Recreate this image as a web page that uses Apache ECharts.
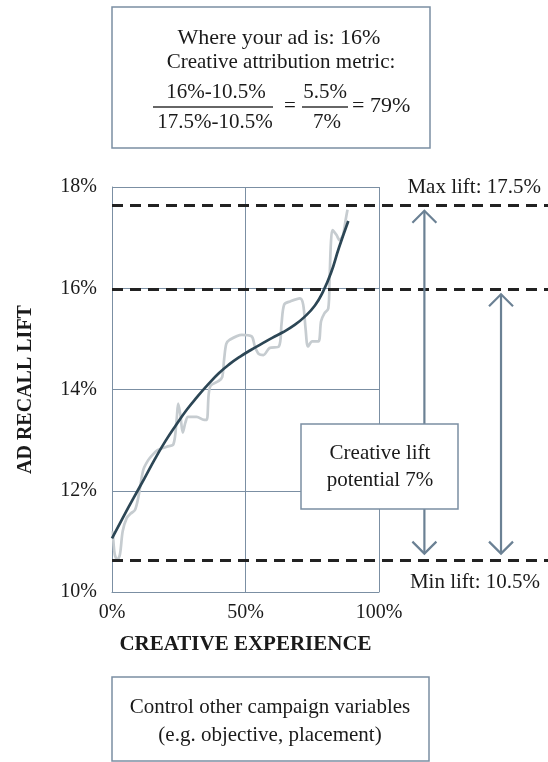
<!DOCTYPE html>
<html><head><meta charset="utf-8">
<script src="https://cdn.jsdelivr.net/npm/echarts@6/dist/echarts.min.js"></script>
<style>html,body{margin:0;padding:0;background:#fff}#c{width:548px;height:762px}</style>
</head><body><div id="c"></div>
<script>
// ---- data ----
const xTicks = [0, 50, 100];
const yTicks = [10, 12, 14, 16, 18];
const fitX = [0, 4, 8, 12, 16, 20, 24, 28, 32, 36, 40, 44, 48, 52, 56, 60, 64, 68, 72, 76, 79, 82, 85, 88.5];
const fitY = [11.06, 11.46, 11.85, 12.23, 12.62, 12.98, 13.3, 13.6, 13.86, 14.1, 14.32, 14.5, 14.65, 14.78, 14.9, 15.02, 15.13, 15.26, 15.43, 15.66, 15.93, 16.3, 16.8, 17.33];
const rawX = [0.3, 1, 2, 3, 4, 5.5, 7, 8.6, 9.9, 11.7, 13.5, 15, 17, 20.5, 23, 24.2, 24.8, 25.6, 26.5, 27.5, 28.5, 31.7, 34.5, 35.5, 36.2, 37, 40, 41.3, 42, 42.8, 44, 48.6, 52.3, 53.5, 55, 56.7, 59, 62.5, 63.5, 64.5, 66.7, 70.4, 71.6, 72.5, 73.4, 75, 77.3, 78.3, 79.5, 81, 81.5, 82, 82.6, 84.1, 85.2, 86.5, 87.5, 88.2];
const rawY = [11.2, 10.75, 10.63, 10.75, 11.2, 11.46, 11.55, 11.62, 11.88, 12.41, 12.6, 12.7, 12.8, 12.87, 12.92, 13.4, 13.72, 13.5, 13.15, 13.35, 13.46, 13.46, 13.4, 13.4, 13.9, 14.08, 14.17, 14.25, 14.6, 14.9, 14.98, 15.08, 15.05, 14.85, 14.7, 14.68, 14.82, 14.85, 15.3, 15.68, 15.74, 15.8, 15.68, 15.2, 14.85, 14.95, 14.95, 15.35, 15.5, 15.6, 16.2, 16.9, 17.15, 17.05, 16.95, 17.05, 17.35, 17.55];
const levelValues = [17.63, 15.98, 10.62];
const levelLabels = ['Max lift: 17.5%', '', 'Min lift: 10.5%'];
const arrowX = [117, 145.7];
const arrowTop = [17.63, 15.98];
const arrowBottom = [10.62, 10.62];

// ---- layout ----
const W = 548, H = 762;
const G = { left: 112, right: 169, top: 187, bottom: 170 };
const xMax2 = 100 * (W - G.left) / (W - G.left - G.right);
const FONT = '"Liberation Serif", "Times New Roman", serif';
const AX = '#7b8fa3';
const TXT = '#1a1a1a';

const zip = (a, b) => a.map((v, i) => [v, b[i]]);

const chart = echarts.init(document.getElementById('c'), null, { renderer: 'canvas' });

const option = {
  animation: false,
  backgroundColor: '#fff',
  grid: [
    { left: G.left, right: G.right, top: G.top, bottom: G.bottom },
    { left: G.left, right: 0, top: G.top, bottom: G.bottom }
  ],
  xAxis: [
    { type: 'value', gridIndex: 0, min: xTicks[0], max: xTicks[xTicks.length - 1], interval: 50,
      axisLine: { show: true, lineStyle: { color: AX, width: 1 } }, axisTick: { show: false },
      splitLine: { show: true, lineStyle: { color: AX, width: 1 } },
      axisLabel: { formatter: v => v + '%', fontFamily: FONT, fontSize: 20, color: TXT, margin: 11 },
      name: 'CREATIVE EXPERIENCE', nameLocation: 'middle', nameGap: 42,
      nameTextStyle: { fontFamily: FONT, fontSize: 21, fontWeight: 'bold', color: TXT } },
    { type: 'value', gridIndex: 1, min: 0, max: xMax2, show: false }
  ],
  yAxis: [
    { type: 'value', gridIndex: 0, min: yTicks[0], max: yTicks[yTicks.length - 1], interval: 2,
      axisLine: { show: true, lineStyle: { color: AX, width: 1 } }, axisTick: { show: false },
      splitLine: { show: true, lineStyle: { color: AX, width: 1 } },
      axisLabel: { formatter: v => v + '%', fontFamily: FONT, fontSize: 20, color: TXT, margin: 15 },
      name: 'AD RECALL LIFT', nameLocation: 'middle', nameGap: 76, nameRotate: 90,
      nameTextStyle: { fontFamily: FONT, fontSize: 20, fontWeight: 'bold', color: TXT } },
    { type: 'value', gridIndex: 1, min: yTicks[0], max: yTicks[yTicks.length - 1], show: false }
  ],
  series: [
    { type: 'line', xAxisIndex: 0, yAxisIndex: 0, data: zip(rawX, rawY), smooth: 0.3,
      showSymbol: false, lineStyle: { color: '#c6ccd0', width: 2.7 }, z: 3 },
    { type: 'line', xAxisIndex: 0, yAxisIndex: 0, data: zip(fitX, fitY), smooth: true,
      showSymbol: false, lineStyle: { color: '#2c4655', width: 2.7 }, z: 4 },
    { type: 'line', xAxisIndex: 1, yAxisIndex: 1, data: [], z: 5, silent: true,
      markLine: { silent: true, symbol: 'none', animation: false,
        lineStyle: { color: '#222', width: 2.8, type: [11, 7] },
        label: { show: false },
        data: levelValues.map(v => ({ yAxis: v })) } },
    { type: 'custom', xAxisIndex: 1, yAxisIndex: 1, z: 6, silent: true,
      data: arrowX.map((x, i) => [x, arrowTop[i], arrowBottom[i]]),
      encode: { x: 0, y: [1, 2] },
      renderItem: (params, api) => {
        const pt = api.coord([api.value(0), api.value(1)]);
        const pb = api.coord([api.value(0), api.value(2)]);
        const x = pt[0], y1 = pt[1] + 5, y2 = pb[1] - 7;
        const st = { stroke: '#6b8194', lineWidth: 2.2, fill: null };
        return { type: 'group', children: [
          { type: 'line', shape: { x1: x, y1: y1, x2: x, y2: y2 }, style: st },
          { type: 'polyline', shape: { points: [[x - 12, y1 + 12], [x, y1], [x + 12, y1 + 12]] }, style: st },
          { type: 'polyline', shape: { points: [[x - 12, y2 - 12], [x, y2], [x + 12, y2 - 12]] }, style: st }
        ] };
      } }
  ]
};
chart.setOption(option);

// ---- annotations ----
const ts = (text, x, y, extra) => Object.assign({ type: 'text', x: x, y: y, z: 100,
  style: Object.assign({ text: text, fontFamily: FONT, fontSize: 21, fill: TXT, align: 'center', verticalAlign: 'middle' }, extra || {}) });
const boxStyle = { stroke: AX, lineWidth: 1.5, fill: 'rgba(0,0,0,0)' };
const lvlPx = levelValues.map(v => chart.convertToPixel({ yAxisIndex: 1 }, v));

const elements = [
  // top box
  { type: 'rect', z: 100, shape: { x: 112, y: 7, width: 318, height: 141 }, style: boxStyle },
  ts('Where your ad is: 16%', 279, 38, { fontSize: 22 }),
  ts('Creative attribution metric:', 281, 62),
  ts('16%-10.5%', 216, 92),
  { type: 'line', z: 100, shape: { x1: 153, y1: 107, x2: 273, y2: 107 }, style: { stroke: '#333', lineWidth: 1.3 } },
  ts('17.5%-10.5%', 215, 122),
  ts('=', 290, 106),
  ts('5.5%', 325, 92),
  { type: 'line', z: 100, shape: { x1: 302, y1: 107, x2: 348, y2: 107 }, style: { stroke: '#333', lineWidth: 1.3 } },
  ts('7%', 327, 122),
  ts('= 79%', 352, 106, { align: 'left', fontSize: 22 }),
  // creative lift box
  { type: 'rect', z: 100, shape: { x: 301, y: 424, width: 157, height: 85 }, style: { stroke: AX, lineWidth: 1.5, fill: '#fff' } },
  ts('Creative lift', 380, 453),
  ts('potential 7%', 380, 480),
  // bottom box
  { type: 'rect', z: 100, shape: { x: 112, y: 677, width: 317, height: 84 }, style: boxStyle },
  ts('Control other campaign variables', 270, 707),
  ts('(e.g. objective, placement)', 270, 735),
  // level labels
  ts(levelLabels[0], 541, lvlPx[0] - 18, { align: 'right' }),
  ts(levelLabels[2], 540, lvlPx[2] + 22, { align: 'right' })
];
chart.setOption({ graphic: { elements: elements } });
</script>
</body></html>
